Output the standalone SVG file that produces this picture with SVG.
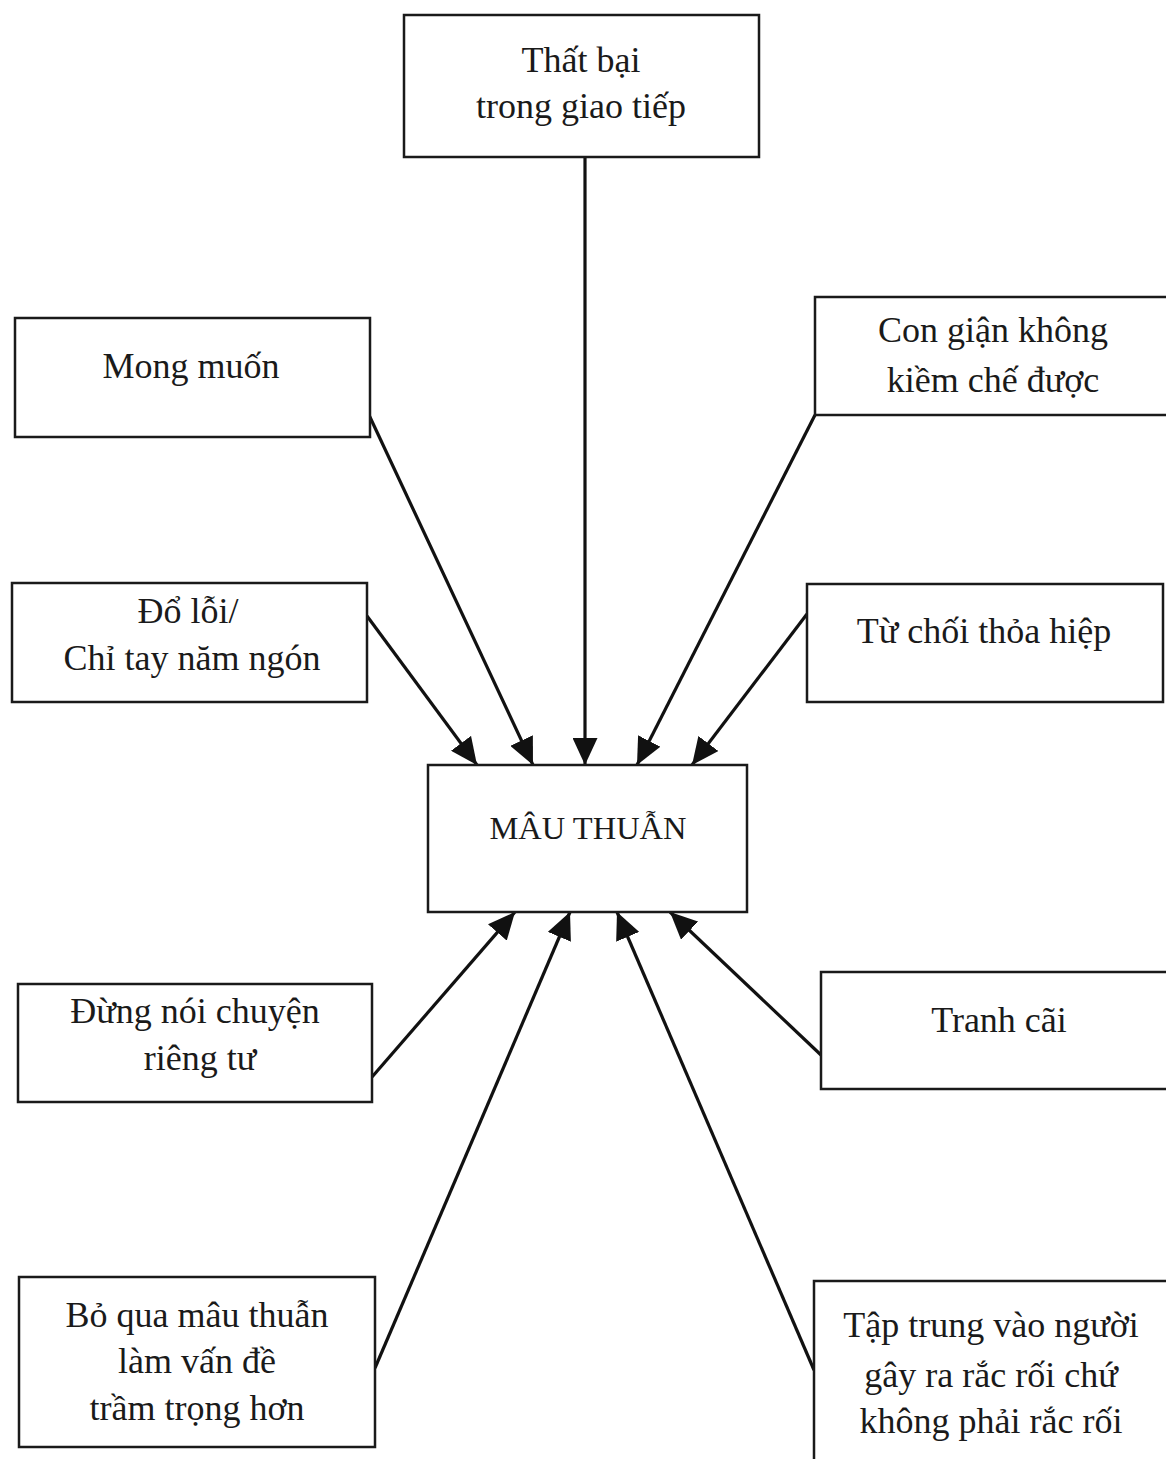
<svg xmlns="http://www.w3.org/2000/svg" width="1166" height="1459" viewBox="0 0 1166 1459">
<style>
.box{fill:#fff;stroke:#1a1a1a;stroke-width:2.5}
.t{font-family:"Liberation Serif","DejaVu Serif",serif;font-size:36px;fill:#1a1a1a;text-anchor:middle}
.c{font-size:32.5px}
.edge{stroke:#111;stroke-width:3.2;fill:none;marker-end:url(#ah)}
</style>
<defs>
<marker id="ah" markerUnits="userSpaceOnUse" markerWidth="27" markerHeight="25" viewBox="0 0 27 25" refX="27" refY="12.5" orient="auto">
<path d="M0,0 L27,12.5 L0,25 z" fill="#111"/>
</marker>
</defs>
<rect width="1166" height="1459" fill="#fff"/>
<g id="edges">
<line class="edge" x1="585" y1="157" x2="585" y2="765"/>
<line class="edge" x1="369" y1="415" x2="533" y2="765"/>
<line class="edge" x1="367" y1="616" x2="477" y2="765"/>
<line class="edge" x1="815" y1="415" x2="637" y2="765"/>
<line class="edge" x1="807" y1="614" x2="692" y2="765"/>
<line class="edge" x1="372" y1="1077" x2="515" y2="912"/>
<line class="edge" x1="375" y1="1368" x2="570" y2="912"/>
<line class="edge" x1="814" y1="1370" x2="617" y2="912"/>
<line class="edge" x1="821" y1="1055" x2="670" y2="912"/>
</g>
<g id="n_thatbai">
<rect class="box" x="404" y="15" width="355" height="142"/>
<text class="t" x="581" y="72">Thất bại</text>
<text class="t" x="581" y="118">trong giao tiếp</text>
</g>
<g id="n_mongmuon">
<rect class="box" x="15" y="318" width="355" height="119"/>
<text class="t" x="191" y="378">Mong muốn</text>
</g>
<g id="n_congian">
<rect class="box" x="815" y="297" width="360" height="118"/>
<text class="t" x="993" y="342">Con giận không</text>
<text class="t" x="993" y="392">kiềm chế được</text>
</g>
<g id="n_doloi">
<rect class="box" x="12" y="583" width="355" height="119"/>
<text class="t" x="188" y="623">Đổ lỗi/</text>
<text class="t" x="192" y="670">Chỉ tay năm ngón</text>
</g>
<g id="n_tuchoi">
<rect class="box" x="807" y="584" width="356" height="118"/>
<text class="t" x="984" y="643">Từ chối thỏa hiệp</text>
</g>
<g id="n_mauthuan">
<rect class="box" x="428" y="765" width="319" height="147"/>
<text class="t c" x="588" y="839">MÂU THUẪN</text>
</g>
<g id="n_dungnoi">
<rect class="box" x="18" y="984" width="354" height="118"/>
<text class="t" x="195" y="1023">Đừng nói chuyện</text>
<text class="t" x="200" y="1070">riêng tư</text>
</g>
<g id="n_tranhcai">
<rect class="box" x="821" y="972" width="360" height="117"/>
<text class="t" x="999" y="1032">Tranh cãi</text>
</g>
<g id="n_boqua">
<rect class="box" x="19" y="1277" width="356" height="170"/>
<text class="t" x="197" y="1327">Bỏ qua mâu thuẫn</text>
<text class="t" x="197" y="1373">làm vấn đề</text>
<text class="t" x="197" y="1420">trầm trọng hơn</text>
</g>
<g id="n_taptrung">
<rect class="box" x="814" y="1281" width="370" height="200"/>
<text class="t" x="991" y="1337">Tập trung vào người</text>
<text class="t" x="991" y="1387">gây ra rắc rối chứ</text>
<text class="t" x="991" y="1433">không phải rắc rối</text>
</g>
</svg>
